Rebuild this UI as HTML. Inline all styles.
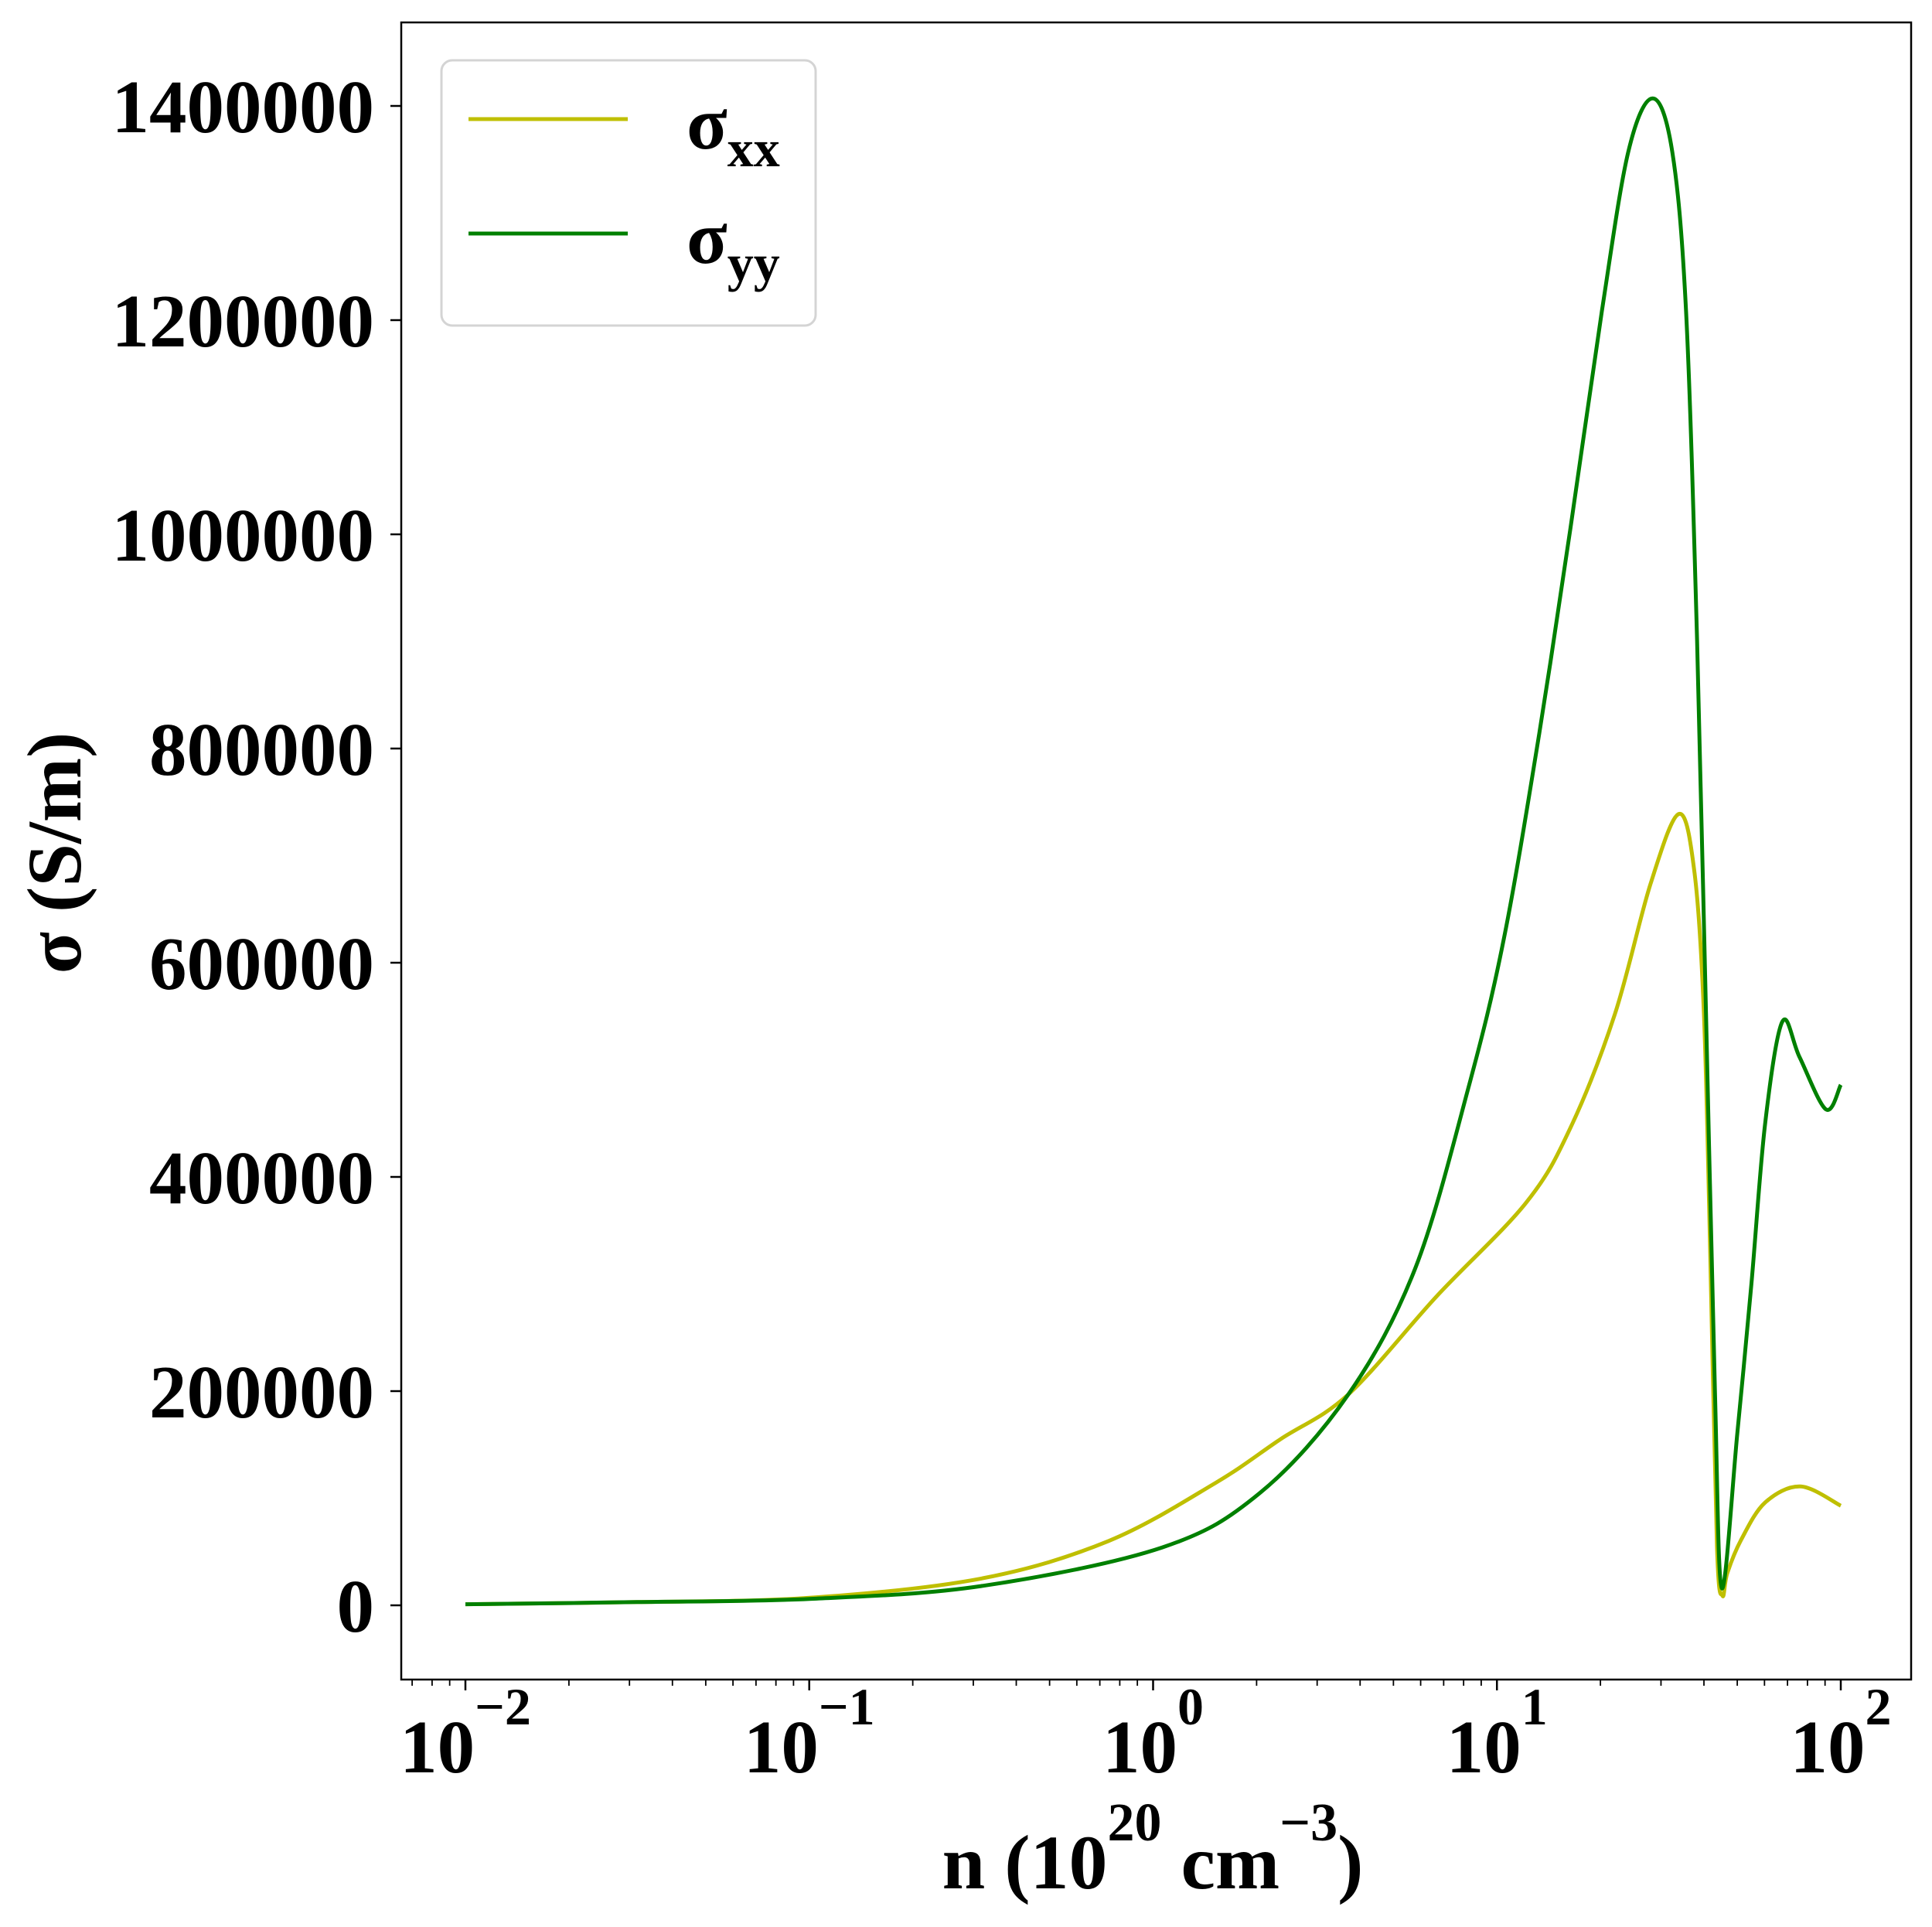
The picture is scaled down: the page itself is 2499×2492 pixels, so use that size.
<!DOCTYPE html>
<html><head><meta charset="utf-8"><style>
html,body{margin:0;padding:0;background:#fff;}
svg{display:block;font-family:"Liberation Serif",serif;font-weight:bold;}
</style></head><body>
<svg id="chart" width="2499" height="2492" viewBox="0 0 2499 2492" xmlns="http://www.w3.org/2000/svg">
<rect x="0" y="0" width="2499" height="2492" fill="#fff"/>
<g id="marks"></g>
<rect x="519" y="29" width="1953" height="2143" fill="none" stroke="#000" stroke-width="2.5"/>
<g id="xticks"></g>
<g id="yticks"></g>
<text x="1491" y="2442" font-size="100" text-anchor="middle">n (10<tspan dy="-62" font-size="70">20</tspan><tspan dy="62"> cm</tspan><tspan dy="-62" font-size="70">−3</tspan><tspan dy="62">)</tspan></text>
<text transform="translate(104,1103) rotate(-90)" font-size="100" text-anchor="middle">σ (S/m)</text>
<g>
<rect x="571" y="78" width="484" height="343" rx="14" fill="#fff" stroke="#d4d4d4" stroke-width="3"/>
<line x1="606" y1="154" x2="812" y2="154" stroke="#bfbf00" stroke-width="5"/>
<text x="888" y="192" font-size="97">σ<tspan dy="23" font-size="68">xx</tspan></text>
<line x1="606" y1="302" x2="812" y2="302" stroke="#008000" stroke-width="5"/>
<text x="888" y="340" font-size="97">σ<tspan dy="23" font-size="68">yy</tspan></text>
</g>
</svg>
<script>
// data: log10(n) and sigma in S/m
const xxLog = [-2, -1.5, -1, -0.5, -0.13, 0.18, 0.37, 0.568, 0.826, 1.085, 1.214, 1.343, 1.447, 1.53, 1.575, 1.602, 1.62, 1.64, 1.656, 1.67, 1.71, 1.78, 1.883, 2.0];
const xxVal = [1000, 3000, 7000, 25000, 60000, 114000, 155000, 197000, 289000, 376000, 446000, 552000, 674000, 739000, 683000, 552000, 333000, 54000, 9000, 30000, 61000, 96000, 111000, 93000];
const yyLog = [-2, -1.5, -1, -0.5, 0.026, 0.311, 0.568, 0.763, 0.916, 1.02, 1.123, 1.214, 1.305, 1.382, 1.453, 1.51, 1.55, 1.582, 1.608, 1.634, 1.654, 1.699, 1.74, 1.78, 1.83, 1.88, 1.957, 2.0];
const yyVal = [1000, 3000, 6000, 18000, 54000, 105000, 197000, 315000, 482000, 622000, 814000, 1006000, 1208000, 1357000, 1407000, 1357000, 1208000, 902000, 552000, 201000, 16000, 160000, 300000, 450000, 545000, 512000, 463000, 486000];
const xTickExp = [-2, -1, 0, 1, 2];
const yTickVals = [0, 200000, 400000, 600000, 800000, 1000000, 1200000, 1400000];

const NS = "http://www.w3.org/2000/svg";
function xs(lg){ return 602 + (lg + 2) * 444.75; }
function ys(v){ return 2076 - v * 277 / 200000; }
function mk(tag, attrs, parent){ const e = document.createElementNS(NS, tag); for (const k in attrs) e.setAttribute(k, attrs[k]); parent.appendChild(e); return e; }

function curve(lx, vy){
  const P = lx.map((l, i) => [xs(l), ys(vy[i])]);
  let d = "M" + P[0][0].toFixed(1) + "," + P[0][1].toFixed(1);
  for (let i = 0; i < P.length - 1; i++) {
    const p0 = P[Math.max(0, i-1)], p1 = P[i], p2 = P[i+1], p3 = P[Math.min(P.length-1, i+2)];
    const c1 = [p1[0] + (p2[0]-p0[0])/6, p1[1] + (p2[1]-p0[1])/6];
    const c2 = [p2[0] - (p3[0]-p1[0])/6, p2[1] - (p3[1]-p1[1])/6];
    d += " C" + c1[0].toFixed(1) + "," + c1[1].toFixed(1) + " " + c2[0].toFixed(1) + "," + c2[1].toFixed(1) + " " + p2[0].toFixed(1) + "," + p2[1].toFixed(1);
  }
  return d;
}
const marks = document.getElementById("marks");
const pxx = mk("path", {d: curve(xxLog, xxVal), fill: "none", stroke: "#bfbf00", "stroke-width": 5, "stroke-linejoin": "round"}, marks);


const pyy = mk("path", {d: curve(yyLog, yyVal), fill: "none", stroke: "#008000", "stroke-width": 5, "stroke-linejoin": "round"}, marks);



const xg = document.getElementById("xticks");
xTickExp.forEach(e => {
  const x = xs(e);
  const t = mk("line", {x1: x, y1: 2172, x2: x, y2: 2186, stroke: "#000", "stroke-width": 2.5}, xg);
  
  
  const lbl = mk("text", {x: x, y: 2292, "font-size": 97, "text-anchor": "middle"}, xg);
  
  
  lbl.appendChild(document.createTextNode("10"));
  const sp = mk("tspan", {dy: -62, "font-size": 68}, lbl);
  sp.textContent = (e < 0 ? "−" : "") + Math.abs(e);
});
for (let dec = -3; dec <= 2; dec++) {
  for (let k = 2; k <= 9; k++) {
    const lg = dec + Math.log10(k);
    const x = xs(lg);
    if (x < 519 || x > 2472) continue;
    const t = mk("line", {x1: x, y1: 2172, x2: x, y2: 2180, stroke: "#000", "stroke-width": 1.8}, xg);
    
    
  }
}
const yg = document.getElementById("yticks");
yTickVals.forEach(v => {
  const y = ys(v);
  const t = mk("line", {x1: 505, y1: y, x2: 519, y2: y, stroke: "#000", "stroke-width": 2.5}, yg);
  
  
  const lbl = mk("text", {x: 484, y: y + 34, "font-size": 97, "text-anchor": "end"}, yg);
  
  
  lbl.textContent = String(v);
});
</script>
</body></html>
